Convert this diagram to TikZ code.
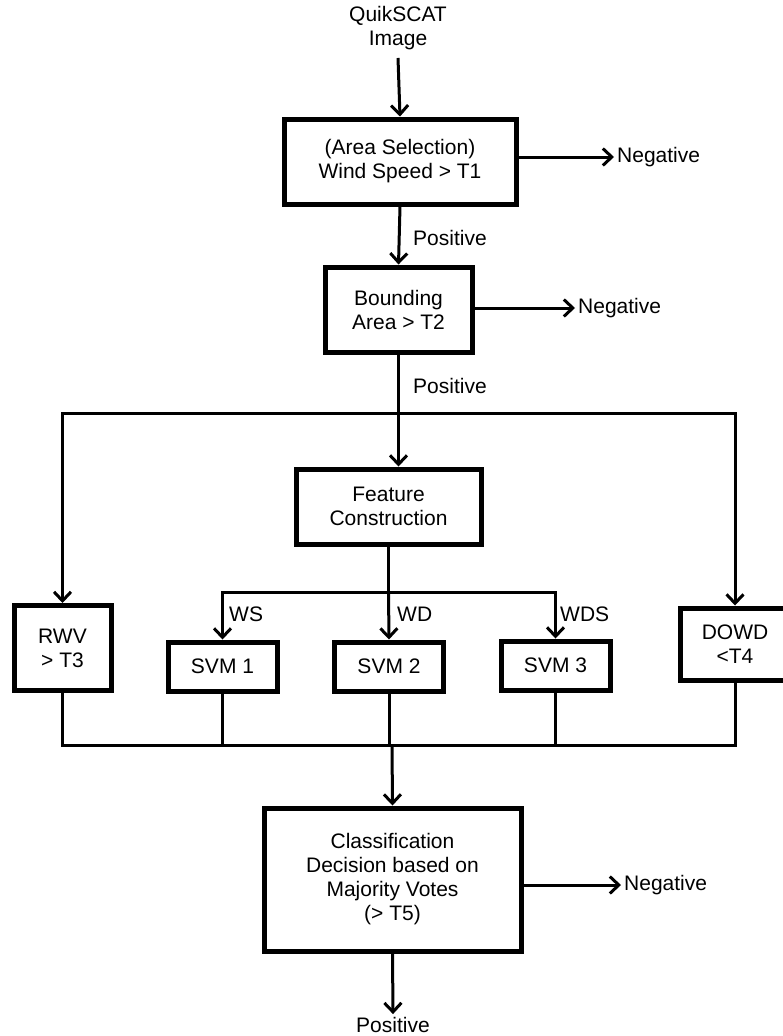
\documentclass[tikz,border=0pt]{standalone}
\usepackage{fontspec}
\setmainfont{Liberation Sans}
\usetikzlibrary{arrows.meta}
\begin{document}
\begin{tikzpicture}[x=1pt,y=-1pt,
  every node/.style={font=\fontsize{21}{24}\selectfont},
  box/.style={draw,line width=5pt,inner sep=0pt,align=center},
  lbl/.style={inner sep=0pt,align=center},
  conn/.style={line width=3pt},
  arr/.style={conn,-{Straight Barb[length=9pt,width=17pt,line width=3pt]}}]
\useasboundingbox (0,0) rectangle (782,1036);
% nodes
\node[lbl] (qs) at (398,28) {QuikSCAT\\Image};
\node[box,minimum width=232pt,minimum height=85pt] (b1) at (400,161.5) {(Area Selection)\\Wind Speed > T1};
\node[lbl,anchor=west] (neg1) at (617,157) {Negative};
\node[lbl,anchor=west] (pos1) at (413,238) {Positive};
\node[box,minimum width=147pt,minimum height=85pt] (b2) at (398.5,309.5) {Bounding\\Area > T2};
\node[lbl,anchor=west] (neg2) at (578,308) {Negative};
\node[lbl,anchor=west] (pos2) at (413,386) {Positive};
\node[box,minimum width=185pt,minimum height=75pt] (feat) at (388.5,506.5) {Feature\\Construction};
\node[box,minimum width=97pt,minimum height=85pt] (rwv) at (62.5,648) {RWV\\> T3};
\node[box,minimum width=109pt,minimum height=49pt] (svm1) at (222.5,666.5) {SVM 1};
\node[box,minimum width=109pt,minimum height=49pt] (svm2) at (389,666.5) {SVM 2};
\node[box,minimum width=109pt,minimum height=49pt] (svm3) at (555.5,665.5) {SVM 3};
\node[box,minimum width=110pt,minimum height=72pt] (dowd) at (735,644) {DOWD\\<T4};
\node[lbl,anchor=west] (ws) at (229,614) {WS};
\node[lbl,anchor=west] (wd) at (397,614) {WD};
\node[lbl,anchor=west] (wds) at (560,614) {WDS};
\node[box,minimum width=257pt,minimum height=143pt] (cls) at (392.5,879.5) {Classification\\Decision based on\\Majority Votes\\(> T5)};
\node[lbl,anchor=west] (neg3) at (624,885) {Negative};
\node[lbl] (pos3) at (393,1025) {Positive};
% coordinates
\coordinate (top) at (398,413);
\coordinate (fan) at (388.5,592);
\coordinate (bot) at (392,745);
% connectors
\draw[arr] ([yshift=-8pt]qs.south) -- (b1.north);
\draw[arr] (neg1.west -| b1.east) -- ([xshift=-3pt]neg1.west);
\draw[arr] (b1.south) -- (b2.north);
\draw[arr] (neg2.west -| b2.east) -- ([xshift=-3pt]neg2.west);
\draw[arr] (b2.south) -- (b2.south |- feat.north);
\draw[arr] (top) -| (rwv.north);
\draw[arr] (top) -| (dowd.north);
\draw[conn] (feat.south) -- (fan);
\draw[arr] (fan) -| (svm1.north);
\draw[arr] (fan) -- (svm2.north);
\draw[arr] (fan) -| (svm3.north);
\draw[conn] (rwv.south) |- (bot);
\draw[conn] (dowd.south) |- (bot);
\draw[conn] (svm1.south) -- (svm1.south |- bot);
\draw[conn] (svm2.south) -- (svm2.south |- bot);
\draw[conn] (svm3.south) -- (svm3.south |- bot);
\draw[arr] (bot) -- (cls.north);
\draw[arr] (neg3.west -| cls.east) -- ([xshift=-3pt]neg3.west);
\draw[arr] (cls.south) -- ([yshift=3pt]pos3.north);
\end{tikzpicture}
\end{document}
